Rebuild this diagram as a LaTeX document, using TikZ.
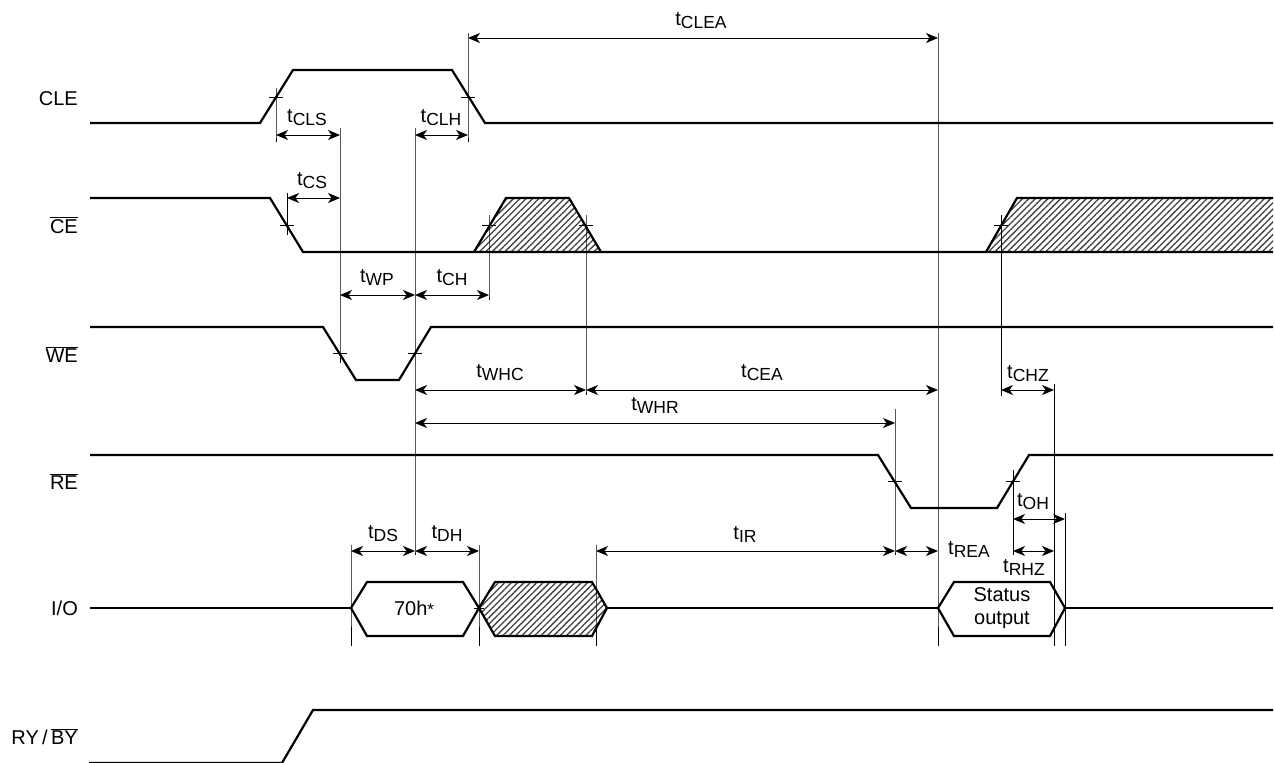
\documentclass[tikz,border=0pt]{standalone}
\usepackage{fontspec}
\setmainfont{Liberation Sans}
\usetikzlibrary{arrows.meta,patterns.meta}
\tikzset{
  signal/.style   = {line width=2.2pt, line join=miter},
  hatched/.style  = {signal, pattern={Lines[angle=45,distance=4.5pt,line width=1.3pt]},
                     pattern color=black!75},
  hatchfill/.style = {pattern={Lines[angle=45,distance=4.5pt,line width=1.3pt]},
                     pattern color=black!75},
  guide/.style    = {line width=1pt},
  dimline/.style  = {line width=1pt,
                     {Stealth[length=12pt,width=10pt,inset=3.5pt]}-{Stealth[length=12pt,width=10pt,inset=3.5pt]}},
  signame/.style  = {anchor=base east, inner sep=0pt, font=\fontsize{20}{24}\selectfont},
  timing/.style   = {anchor=base, inner sep=0pt, font=\fontsize{20}{24}\selectfont},
  busvalue/.style = {inner sep=0pt, align=center, font=\fontsize{20}{23}\selectfont}
}
\newcommand{\tsub}[1]{t\raisebox{-3pt}{\fontsize{17.5}{18}\selectfont #1}}
\newcommand{\inv}[1]{\ensuremath{\overline{\mbox{#1}}}}

\begin{document}
\begin{tikzpicture}[x=1pt, y=-1pt]
  \useasboundingbox (0,0) rectangle (1275,763);

  % signal names
  \node [signame] (lCLE) at (78,105) {CLE};
  \node [signame] (lCE)  at (78,233) {\inv{CE}};
  \node [signame] (lWE)  at (78,362) {\inv{WE}};
  \node [signame] (lRE)  at (78,489) {\inv{RE}};
  \node [signame] (lIO)  at (78,615) {I/O};
  \node [signame] (lRY)  at (78,744) {RY\thinspace/\thinspace\inv{BY}};

  % edges and rows
  \coordinate (cleR)  at (276,97);
  \coordinate (cleF)  at (468,97);
  \coordinate (ceF)   at (287,225);
  \coordinate (ceR)   at (489,225);
  \coordinate (ceH)   at (586,225);
  \coordinate (ceZ)   at (1001,225);
  \coordinate (weF)   at (340,353);
  \coordinate (weR)   at (415,353);
  \coordinate (reF)   at (895,481);
  \coordinate (reR)   at (1013,481);
  \coordinate (dSet)  at (351,608);
  \coordinate (dHold) at (479,608);
  \coordinate (ioIR)  at (596,608);
  \coordinate (stOn)  at (938,608);
  \coordinate (stHz)  at (1054,608);
  \coordinate (stOff) at (1065,608);
  \coordinate (rCLEA) at (0,38);
  \coordinate (rCLS)  at (0,135);
  \coordinate (rCS)   at (0,198);
  \coordinate (rWP)   at (0,295);
  \coordinate (rWHC)  at (0,390);
  \coordinate (rWHR)  at (0,423);
  \coordinate (rOH)   at (0,519);
  \coordinate (rDS)   at (0,551);

  % CLE
  \draw [signal] (90,123) -- (260,123) -- (293,70) -- (452,70) -- (485,123) -- (1273,123);
  % CE
  \draw [hatched] (474,252) -- (506,198) -- (569,198) -- (601,252);
  \fill [hatchfill] (986,252) -- (1017,198) -- (1273,198) -- (1273,252) -- cycle;
  \draw [signal] (986,252) -- (1017,198) -- (1273,198);
  \draw [signal] (90,198) -- (270,198) -- (303,252) -- (1273,252);
  % WE
  \draw [signal] (90,327) -- (323,327) -- (356,380) -- (399,380) -- (431,327) -- (1273,327);
  % RE
  \draw [signal] (90,455) -- (878,455) -- (911,508) -- (997,508) -- (1029,455) -- (1273,455);
  % I/O
  \draw [signal] (90,608) -- (dSet);
  \draw [signal] (dSet) -- (367,582) -- (463,582) -- (dHold) -- (463,636) -- (367,636) -- cycle;
  \draw [hatched] (dHold) -- (495,582) -- (592,582) -- (607,608) -- (592,636) -- (495,636) -- cycle;
  \draw [signal] (607,608) -- (stOn);
  \draw [signal] (stOn) -- (954,582) -- (1050,582) -- (stOff) -- (1050,636) -- (954,636) -- cycle;
  \draw [signal] (stOff) -- (1273,608);
  \node [busvalue] (vCmd)  at (414,608) {70h{\fontsize{17}{17}\selectfont *}};
  \node [busvalue] (vStat) at (1002,608) {Status\\output};
  % RY/BY
  \draw [signal] (89,763) -- (282,763) -- (313,710) -- (1273,710);

  % reference lines
  \draw [guide] (cleR) +(0,-9) -- (cleR |- rCLS) -- +(0,7);
  \draw [guide] (cleF |- rCLEA) +(0,-5) -- (cleF |- rCLS) -- +(0,7);
  \draw [guide] (ceF) +(0,-32) -- +(0,10);
  \draw [guide] (ceR) +(0,-10) -- (ceR |- rWP) -- +(0,5);
  \draw [guide] (ceH) +(0,-10) -- (ceH |- rWHC) -- +(0,5);
  \draw [guide] (ceZ) +(0,-10) -- (ceZ |- rWHC) -- +(0,6);
  \draw [guide] (weF |- rCLS) +(0,-7) -- (weF) -- +(0,10);
  \draw [guide] (weR |- rCLS) +(0,-7) -- (weR |- rDS) -- +(0,4);
  \draw [guide] (reF |- rWHR) +(0,-14) -- (reF |- rDS) -- +(0,4);
  \draw [guide] (reR) +(0,-11) -- (reR |- rDS) -- +(0,4);
  \draw [guide] (stOn |- rCLEA) +(0,-5) -- (stOn) -- +(0,38);
  \draw [guide] (stHz |- rWHC) +(0,-6) -- (stHz) -- +(0,38);
  \draw [guide] (stOff |- rOH) +(0,-6) -- (stOff) -- +(0,38);
  \foreach \p in {dSet,dHold,ioIR}
    \draw [guide] (\p |- rDS) +(0,-6) -- (\p) -- +(0,38);
  \foreach \p in {cleR,cleF,ceF,ceR,ceH,ceZ,weF,weR,reF,reR}
    \draw [guide] (\p) +(-7,0) -- +(7,0);
  \draw [guide] (dHold) +(-5,0) -- +(5,0);

  % timing arrows
  \draw [dimline] (cleF |- rCLEA) -- (stOn |- rCLEA);
  \draw [dimline] (cleR |- rCLS) -- (weF |- rCLS);
  \draw [dimline] (weR |- rCLS) -- (cleF |- rCLS);
  \draw [dimline] (ceF |- rCS) -- (weF |- rCS);
  \draw [dimline] (weF |- rWP) -- (weR |- rWP);
  \draw [dimline] (weR |- rWP) -- (ceR |- rWP);
  \draw [dimline] (weR |- rWHC) -- (ceH |- rWHC);
  \draw [dimline] (ceH |- rWHC) -- (stOn |- rWHC);
  \draw [dimline] (ceZ |- rWHC) -- (stHz |- rWHC);
  \draw [dimline] (weR |- rWHR) -- (reF |- rWHR);
  \draw [dimline] (reR |- rOH) -- (stOff |- rOH);
  \draw [dimline] (dSet |- rDS) -- (weR |- rDS);
  \draw [dimline] (weR |- rDS) -- (dHold |- rDS);
  \draw [dimline] (ioIR |- rDS) -- (reF |- rDS);
  \draw [dimline] (reF |- rDS) -- (stOn |- rDS);
  \draw [dimline] (reR |- rDS) -- (stHz |- rDS);

  % timing names
  \node [timing] (tCLEA) at (701,25)  {\tsub{CLEA}};
  \node [timing] (tCLS)  at (307,122) {\tsub{CLS}};
  \node [timing] (tCLH)  at (441,122) {\tsub{CLH}};
  \node [timing] (tCS)   at (312,185) {\tsub{CS}};
  \node [timing] (tWP)   at (377,282) {\tsub{WP}};
  \node [timing] (tCH)   at (452,282) {\tsub{CH}};
  \node [timing] (tWHC)  at (500,377) {\tsub{WHC}};
  \node [timing] (tCEA)  at (762,377) {\tsub{CEA}};
  \node [timing] (tCHZ)  at (1028,378) {\tsub{CHZ}};
  \node [timing] (tWHR)  at (655,410) {\tsub{WHR}};
  \node [timing] (tOH)   at (1033,506) {\tsub{OH}};
  \node [timing] (tDS)   at (383,538) {\tsub{DS}};
  \node [timing] (tDH)   at (447,538) {\tsub{DH}};
  \node [timing] (tIR)   at (745,539) {\tsub{IR}};
  \node [timing] (tREA)  at (969,554) {\tsub{REA}};
  \node [timing] (tRHZ)  at (1024,572) {\tsub{RHZ}};
\end{tikzpicture}
\end{document}
